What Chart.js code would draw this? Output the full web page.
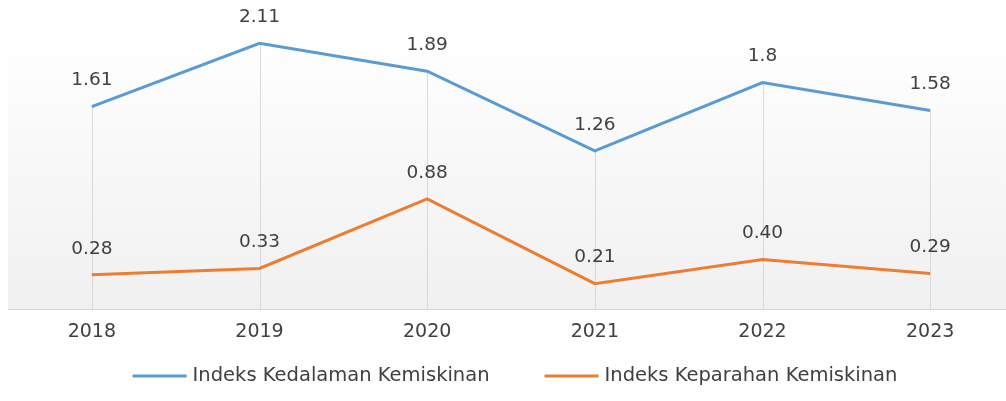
<!DOCTYPE html>
<html>
<head>
<meta charset="utf-8">
<script src="https://cdn.jsdelivr.net/npm/chart.js@4"></script>
<style>
  html, body { margin: 0; padding: 0; background: #ffffff; overflow: hidden; }
  #wrap { position: relative; width: 1030px; height: 401px; }
</style>
</head>
<body>
<div id="wrap"><canvas id="c"></canvas></div>
<script>
const categories = ['2018', '2019', '2020', '2021', '2022', '2023'];
const kedalaman = [1.61, 2.11, 1.89, 1.26, 1.80, 1.58];
const keparahan = [0.28, 0.33, 0.88, 0.21, 0.40, 0.29];
const kedalamanLabels = ['1.61', '2.11', '1.89', '1.26', '1.8', '1.58'];
const keparahanLabels = ['0.28', '0.33', '0.88', '0.21', '0.40', '0.29'];
const seriesNames = ['Indeks Kedalaman Kemiskinan', 'Indeks Keparahan Kemiskinan'];

const FONT = "'DejaVu Sans', sans-serif";
const TEXT = '#404040';

const bgPlugin = {
  id: 'bg',
  beforeDraw(chart) {
    const { ctx, chartArea: a } = chart;
    const g = ctx.createLinearGradient(0, a.top, 0, a.bottom);
    g.addColorStop(0, '#ffffff');
    g.addColorStop(1, '#f0f0f0');
    ctx.save();
    ctx.fillStyle = g;
    ctx.fillRect(a.left, a.top - 2, a.right - a.left, a.bottom - a.top + 2);
    ctx.restore();
  },
  beforeDatasetsDraw(chart) {
    const { ctx, chartArea: a, scales } = chart;
    const x = scales.x, y = scales.y;
    ctx.save();
    ctx.strokeStyle = '#d9d9d9';
    ctx.lineWidth = 1;
    categories.forEach((c, i) => {
      const px = Math.round(x.getPixelForValue(i)) + 0.5;
      const top = Math.min(...chart.data.datasets.map(d => y.getPixelForValue(d.data[i])));
      ctx.beginPath();
      ctx.moveTo(px, top);
      ctx.lineTo(px, a.bottom);
      ctx.stroke();
    });
    ctx.beginPath();
    ctx.moveTo(a.left, Math.round(a.bottom) - 0.5);
    ctx.lineTo(a.right, Math.round(a.bottom) - 0.5);
    ctx.stroke();
    ctx.restore();
  },
  afterDatasetsDraw(chart) {
    const { ctx } = chart;
    const labelSets = [kedalamanLabels, keparahanLabels];
    ctx.save();
    ctx.font = "18.5px " + FONT;
    ctx.fillStyle = TEXT;
    ctx.textAlign = 'center';
    ctx.textBaseline = 'middle';
    chart.data.datasets.forEach((d, di) => {
      const meta = chart.getDatasetMeta(di);
      meta.data.forEach((pt, i) => {
        ctx.fillText(labelSets[di][i], pt.x, pt.y - 26);
      });
    });
    ctx.restore();
  },
  afterDraw(chart) {
    const { ctx } = chart;
    const lineLen = 54, gapText = 6, gapItem = 55, yMid = 376, centerX = 515;
    ctx.save();
    ctx.font = "19.5px " + FONT;
    const widths = chart.data.datasets.map(d => ctx.measureText(d.label).width);
    const total = widths.reduce((s, w) => s + lineLen + gapText + w, 0) + gapItem * (widths.length - 1);
    let x = centerX - total / 2;
    chart.data.datasets.forEach((d, i) => {
      ctx.strokeStyle = d.borderColor;
      ctx.lineWidth = 3;
      ctx.beginPath();
      ctx.moveTo(x, yMid);
      ctx.lineTo(x + lineLen, yMid);
      ctx.stroke();
      x += lineLen + gapText;
      ctx.fillStyle = TEXT;
      ctx.textAlign = 'left';
      ctx.textBaseline = 'middle';
      ctx.fillText(d.label, x, yMid);
      x += widths[i] + gapItem;
    });
    ctx.restore();
  }
};

new Chart(document.getElementById('c'), {
  type: 'line',
  data: {
    labels: categories,
    datasets: [
      { label: seriesNames[0], data: kedalaman, borderColor: '#5b9bd5', backgroundColor: '#5b9bd5', borderWidth: 3, pointRadius: 0, tension: 0 },
      { label: seriesNames[1], data: keparahan, borderColor: '#ed7d31', backgroundColor: '#ed7d31', borderWidth: 3, pointRadius: 0, tension: 0 }
    ]
  },
  options: {
    responsive: true,
    maintainAspectRatio: false,
    animation: false,
    layout: { padding: { left: 8, top: 32, right: 16, bottom: 48 } },
    scales: {
      x: {
        offset: true,
        grid: { display: false, drawTicks: false },
        border: { display: false },
        ticks: { color: TEXT, font: { family: FONT, size: 19 }, padding: 10 }
      },
      y: {
        display: false,
        min: 0,
        max: 2.2
      }
    },
    plugins: {
      legend: { display: false },
      tooltip: { enabled: false }
    }
  },
  plugins: [bgPlugin]
});
</script>
</body>
</html>
